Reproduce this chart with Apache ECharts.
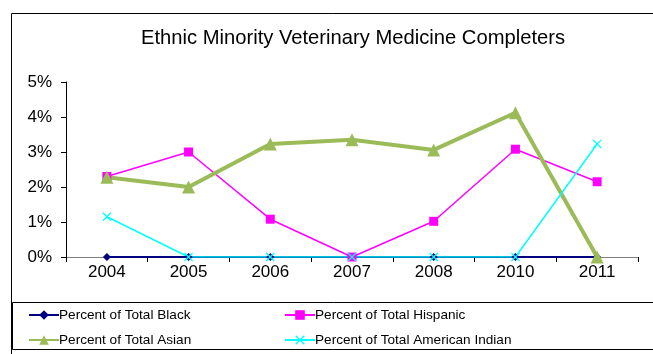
<!DOCTYPE html>
<html>
<head>
<meta charset="utf-8">
<script src="https://cdn.jsdelivr.net/npm/echarts@6/dist/echarts.min.js"></script>
<style>
	html, body { margin: 0; padding: 0; background: #fff; }
	#chart { width: 653px; height: 354px; }
</style>
</head>
<body>
<div id="chart"></div>
<script>
//数据
var years = ['2004', '2005', '2006', '2007', '2008', '2010', '2011'];
var black = [0, 0, 0, 0, 0, 0, 0];
var hispanic = [2.3, 3.0, 1.08, 0, 1.02, 3.08, 2.15];
var asian = [2.28, 2.0, 3.23, 3.35, 3.06, 4.12, 0];
var amIndian = [1.15, 0, 0, 0, 0, 0, 3.23];
var yTicks = [0, 1, 2, 3, 4, 5];

var crossPath = 'path://M0,1L1,0L5,4L9,0L10,1L6,5L10,9L9,10L5,6L1,10L0,9L4,5Z';

function lineChart() {
	var chart = echarts.init(document.getElementById('chart'));
	var font = 'Liberation Sans, Arial, sans-serif';
	var option = {
		animation: false,
		title: {
			text: 'Ethnic Minority Veterinary Medicine Completers',
			left: 348,
			textAlign: 'center',
			top: 23,
			textStyle: {
				color: '#000',
				fontSize: 20.2,
				fontWeight: 'normal',
				fontFamily: font
			}
		},
		graphic: [{
			type: 'rect',
			shape: { x: 11.5, y: 13.5, width: 700, height: 400 },
			style: { fill: 'none', stroke: '#000', lineWidth: 1 },
			z: -1
		}, {
			type: 'rect',
			shape: { x: 12.5, y: 302.5, width: 700, height: 47 },
			style: { fill: 'none', stroke: '#000', lineWidth: 1 },
			z: -1
		}],
		legend: [{
			orient: 'vertical',
			left: 23,
			top: 303,
			itemGap: 11,
			itemWidth: 30,
			itemHeight: 12,
			textStyle: { color: '#000', fontSize: 13.6, fontFamily: font, padding: [0, 0, 0, -5] },
			data: ['Percent of Total Black', 'Percent of Total Asian']
		}, {
			orient: 'vertical',
			left: 279,
			top: 303,
			itemGap: 11,
			itemWidth: 30,
			itemHeight: 12,
			textStyle: { color: '#000', fontSize: 13.6, fontFamily: font, padding: [0, 0, 0, -5] },
			data: ['Percent of Total Hispanic', 'Percent of Total American Indian']
		}],
		grid: {
			left: 66,
			right: 15,
			top: 82,
			bottom: 97
		},
		xAxis: {
			type: 'category',
			data: years,
			boundaryGap: true,
			axisLine: { lineStyle: { color: '#808080', width: 1 } },
			axisTick: { show: true, interval: 0, length: 5, lineStyle: { color: '#000' } },
			axisLabel: { color: '#000', fontSize: 17, fontFamily: font, margin: 7 },
			splitLine: { show: false }
		},
		yAxis: {
			type: 'value',
			min: yTicks[0],
			max: yTicks[yTicks.length - 1],
			interval: 1,
			axisLine: { show: true, lineStyle: { color: '#000', width: 1 } },
			axisTick: { show: true, length: 5, lineStyle: { color: '#000' } },
			axisLabel: { color: '#000', fontSize: 17, fontFamily: font, margin: 14, formatter: '{value}%' },
			splitLine: { show: false }
		},
		series: [{
			name: 'Percent of Total Black',
			type: 'line',
			data: black,
			color: '#000080',
			symbol: 'diamond',
			symbolSize: 8,
			lineStyle: { width: 2, color: '#000080' },
			itemStyle: { color: '#000080' }
		}, {
			name: 'Percent of Total Hispanic',
			type: 'line',
			data: hispanic,
			color: '#ff00ff',
			symbol: 'rect',
			symbolSize: 9,
			lineStyle: { width: 1.5, color: '#ff00ff' },
			itemStyle: { color: '#ff00ff' }
		}, {
			name: 'Percent of Total Asian',
			type: 'line',
			data: asian,
			color: '#9bbb59',
			symbol: 'triangle',
			symbolSize: 13,
			lineStyle: { width: 4, color: '#9bbb59' },
			itemStyle: { color: '#9bbb59' }
		}, {
			name: 'Percent of Total American Indian',
			type: 'line',
			data: amIndian,
			color: '#00ffff',
			symbol: crossPath,
			symbolSize: 9,
			lineStyle: { width: 1.5, color: '#00ffff' },
			itemStyle: { color: '#00ffff' }
		}]
	};
	chart.setOption(option);
}
lineChart();
</script>
</body>
</html>
